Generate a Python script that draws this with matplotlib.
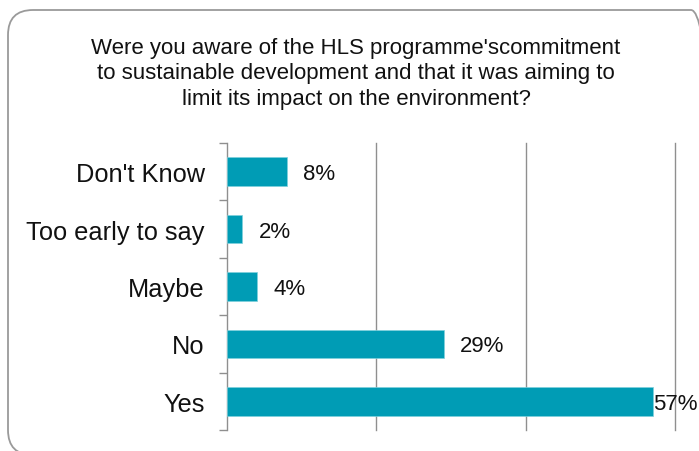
import matplotlib
matplotlib.use("Agg")
import matplotlib.pyplot as plt
from matplotlib.patches import FancyBboxPatch
from matplotlib.transforms import IdentityTransform
import numpy as np

plt.rcParams['font.family'] = ['Liberation Sans', 'DejaVu Sans']

# Respuestas de la encuesta (de arriba hacia abajo)
categorias = ["Don't Know", "Too early to say", "Maybe", "No", "Yes"]
porcentajes = [8, 2, 4, 29, 57]
titulo = ("Were you aware of the HLS programme'scommitment\n"
          "to sustainable development and that it was aiming to\n"
          "limit its impact on the environment?")

color_barra = '#009cb5'
gris = '#8f8f8f'

fig = plt.figure(figsize=(6.99, 4.52), dpi=100)

# Marco redondeado alrededor de todo el grafico (en pixeles)
marco = FancyBboxPatch((8, -4), 708, 445,
                       boxstyle="round,pad=0,rounding_size=25",
                       transform=IdentityTransform(),
                       facecolor='none', edgecolor='#9a9a9a', lw=1.3)
fig.patches.append(marco)

fig.text(356 / 699, 1 - 74 / 452, titulo, ha='center', va='center',
         fontsize=16, linespacing=1.27, color='#111111')

ax = fig.add_axes([227 / 699, 21 / 452, 448 / 699, 287 / 452])

y = np.arange(len(categorias))
ax.barh(y, porcentajes, height=0.5, color=color_barra,
        edgecolor='#7fd0dc', linewidth=0.5, zorder=3)

ax.set_xlim(0, 60)
ax.set_ylim(len(categorias) - 0.5, -0.5)

# Lineas verticales de referencia cada 20%
for xv in [20, 40, 60]:
    ax.axvline(xv, color=gris, lw=1, zorder=1, clip_on=False)

for s in ['top', 'right', 'bottom']:
    ax.spines[s].set_visible(False)
ax.spines['left'].set_color(gris)
ax.spines['left'].set_linewidth(1)

ax.set_xticks([])
ax.set_yticks(y)
ax.set_yticklabels(categorias, fontsize=18.3, color='#111111')
ax.tick_params(axis='y', which='major', length=0, pad=16)
ax.set_yticks(np.arange(-0.5, len(categorias)), minor=True)
ax.tick_params(axis='y', which='minor', length=6, color=gris, width=1)

# Etiquetas con el valor de cada barra
for i, v in enumerate(porcentajes):
    desplaz = 12 if v < 50 else 0
    ax.annotate(f'{v}%', (v, i), xytext=(desplaz, -1.5), textcoords='offset points',
                ha='left', va='center', fontsize=16, color='#111111',
                annotation_clip=False, zorder=4)

fig.savefig('out.png', dpi=100)
